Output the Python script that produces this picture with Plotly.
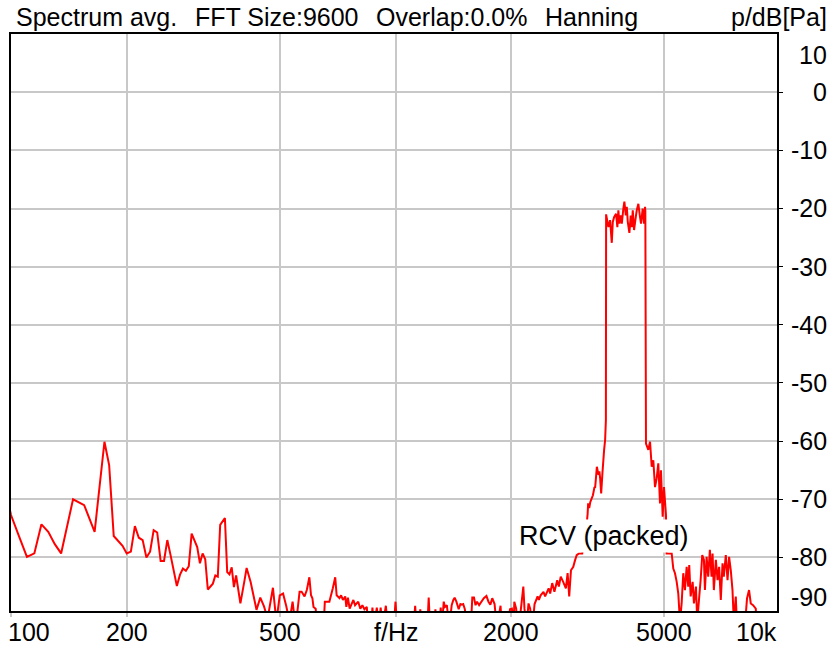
import numpy as np
import plotly.graph_objects as go

# ---- data ----
low_freq = [95, 100, 105, 110, 115, 120, 125, 130, 135, 145, 155, 165, 175, 180, 185, 195, 200, 205,
            210, 215, 220, 225, 230, 235, 240, 245, 250, 255, 260, 270, 275, 280, 285, 290, 295, 305,
            310, 315, 320, 325, 335, 340, 345, 350, 360, 365, 370, 375, 380, 385, 395, 405, 410, 420,
            435, 445, 455, 465, 480, 490, 500, 510, 520, 530]
low_db = [-66.0, -72.7, -76.4, -79.9, -79.3, -74.3, -75.6, -77.7, -79.3, -70.0, -71.0, -75.6, -60.1,
          -64.1, -76.3, -78.0, -79.3, -79.0, -74.6, -76.6, -77.0, -80.0, -79.0, -75.3, -75.7, -80.6,
          -80.6, -77.0, -79.6, -84.9, -83.0, -81.9, -82.3, -81.5, -75.9, -78.2, -81.0, -79.3, -80.3,
          -85.5, -84.5, -83.1, -83.3, -74.4, -73.2, -82.5, -82.9, -81.7, -85.1, -83.1, -87.9, -83.9,
          -81.8, -84.2, -89.0, -86.9, -88.4, -90.5, -85.2, -91.0, -86.5, -86.2, -88.4, -91.0]

floor_freq = [540, 550, 563, 570, 580, 588, 597, 603, 608, 612, 620, 626, 650, 655, 665, 673, 687, 697,
              703, 715, 722, 730, 740, 745, 752, 760, 777, 785, 800, 810, 820, 830, 842, 850, 865, 871,
              880, 894, 905, 915, 925, 944, 955, 990, 1000, 1010, 1115, 1125, 1135, 1150, 1160, 1170,
              1210, 1220, 1230, 1260, 1270, 1280, 1300, 1311, 1320, 1335, 1345, 1360, 1380, 1400, 1414,
              1425, 1440, 1460, 1475, 1488, 1500, 1515, 1530, 1570, 1584, 1600, 1615, 1630, 1650, 1697,
              1724, 1745, 1765, 1785, 1810, 1835, 1876, 1890, 1960, 1985, 2008]
floor_db = [-87.6, -92.0, -85.9, -85.9, -86.7, -85.6, -83.4, -86.5, -87.0, -88.5, -88.8, -92.0, -92.0,
            -87.6, -87.6, -87.6, -85.3, -83.4, -86.5, -87.0, -86.5, -87.3, -86.7, -88.5, -86.9, -88.8,
            -87.3, -88.2, -87.6, -88.8, -88.2, -88.9, -88.5, -92.0, -92.0, -88.6, -92.0, -88.6, -92.0,
            -88.6, -92.0, -88.3, -92.0, -92.0, -87.6, -92.0, -92.0, -88.3, -92.0, -92.0, -88.9, -92.0,
            -92.0, -86.9, -92.0, -92.0, -88.9, -92.0, -92.0, -88.6, -92.0, -87.6, -88.5, -88.2, -92.0,
            -88.2, -87.3, -86.9, -87.6, -88.9, -88.0, -88.1, -88.0, -88.9, -92.0, -92.0, -86.9, -86.9,
            -88.2, -87.6, -88.2, -87.0, -86.6, -87.6, -88.1, -87.0, -88.0, -92.0, -88.3, -92.0, -92.0,
            -88.9, -88.8]

skirt_lo_freq = [2030, 2037, 2060, 2080, 2110, 2150, 2165, 2190, 2218, 2240, 2270, 2300, 2342, 2360,
                 2385, 2426, 2450, 2502, 2525, 2556, 2590, 2634, 2660, 2690, 2730, 2774, 2803, 2830,
                 2860, 2900, 2930, 2960, 3000, 3060, 3100, 3150, 3160, 3170, 3190, 3210, 3240, 3262,
                 3290, 3306, 3320, 3340, 3372, 3390, 3406, 3427, 3453, 3488, 3509, 3525]
skirt_lo_db = [-92.0, -87.6, -88.8, -92.0, -90.0, -85.0, -88.8, -92.0, -87.9, -88.8, -92.0, -88.0,
               -86.7, -87.3, -86.5, -85.9, -86.7, -85.3, -86.2, -84.4, -85.9, -83.9, -85.0, -83.3,
               -84.2, -85.3, -82.7, -86.7, -82.2, -81.6, -80.5, -79.6, -79.3, -79.3, -76.0, -73.5,
               -72.5, -70.7, -71.5, -70.5, -69.8, -69.3, -68.0, -67.9, -66.5, -64.4, -65.8, -65.2,
               -66.4, -69.0, -65.5, -61.5, -59.8, -56.4]

tone_freq = [3530, 3579, 3615, 3652, 3674, 3703, 3747, 3776, 3799, 3822, 3855, 3878, 3914, 3938, 3972,
             3995, 4019, 4058, 4091, 4116, 4141, 4173, 4216, 4241, 4282, 4325, 4351, 4395, 4430, 4457,
             4465]
tone_db = [-21.0, -23.2, -22.0, -25.9, -22.3, -21.5, -20.9, -23.2, -20.3, -22.6, -21.2, -22.6, -20.0,
           -18.8, -21.2, -19.7, -22.3, -24.2, -21.2, -23.2, -20.3, -23.7, -21.5, -20.3, -19.2, -21.5,
           -22.6, -20.0, -22.6, -19.7, -20.5]

skirt_hi_freq = [4482, 4545, 4592, 4639, 4683, 4731, 4779, 4825, 4874, 4903, 4953, 4992, 5052, 5060,
                 5070, 5228, 5278, 5332, 5387, 5438, 5493, 5549, 5603, 5660, 5718, 5772, 5807, 5857,
                 5927, 5973, 6045, 6093, 6166, 6217, 6277, 6341, 6379, 6444, 6506, 6571, 6638, 6678,
                 6730, 6811, 6880, 6946, 7016, 7088, 7143, 7229, 7304, 7373, 7448, 7524, 7583, 7674,
                 7734, 8097, 8210, 8308, 8395, 8511, 8650, 8716, 9800]
skirt_hi_db = [-60.4, -61.5, -60.1, -64.4, -63.3, -67.9, -66.4, -63.8, -70.7, -65.0, -73.0, -67.9,
               -72.7, -76.0, -79.3, -79.3, -81.9, -82.7, -84.2, -86.2, -91.0, -87.9, -82.7, -85.6,
               -81.6, -85.0, -81.3, -86.7, -84.2, -87.9, -85.0, -91.0, -86.7, -83.9, -79.6, -80.4,
               -85.6, -79.9, -83.3, -78.7, -83.3, -79.3, -85.6, -80.4, -83.9, -81.6, -87.3, -81.0,
               -83.3, -79.6, -83.9, -79.9, -82.2, -85.6, -91.0, -86.7, -92.0, -92.0, -87.0, -85.6,
               -87.9, -88.2, -88.8, -92.0, -93.0]

x_tick_vals = [100, 200, 500, 1000, 2000, 5000]
x_tick_text = ["100", "200", "500", "f/Hz", "2000", "5000"]
y_tick_vals = [10, 0, -10, -20, -30, -40, -50, -60, -70, -80, -90]
title_parts = ["Spectrum avg.", "FFT Size:9600", "Overlap:0.0%", "Hanning"]
unit_label = "p/dB[Pa]"
curve_label = "RCV (packed)"

freq = low_freq + floor_freq + skirt_lo_freq + tone_freq + skirt_hi_freq
level = low_db + floor_db + skirt_lo_db + tone_db + skirt_hi_db

FONT = "Liberation Sans, Arial, sans-serif"
W, H = 830, 647
L, R, T, B = 9, 777, 34, 611
Y_RANGE = [-89.2, 10]
FS = 25

fig = go.Figure()
fig.add_trace(go.Scatter(x=freq, y=level, mode="lines",
                         line=dict(color="#ff0000", width=2, simplify=False),
                         hoverinfo="skip", showlegend=False))

fig.update_layout(
    width=W, height=H,
    margin=dict(l=L, r=W - R, t=T, b=H - B, pad=0),
    paper_bgcolor="white", plot_bgcolor="white",
    showlegend=False,
    font=dict(family=FONT, size=FS, color="black"),
)
fig.update_xaxes(type="log", range=[2, 2 + (R - L) / 385.5],
                 tickvals=x_tick_vals, showticklabels=False,
                 ticks="outside", ticklen=4, tickcolor="#c8c8c8", tickwidth=2,
                 showgrid=True, gridcolor="#c8c8c8", gridwidth=2,
                 showline=True, linecolor="black", linewidth=2, mirror=True,
                 zeroline=False)
fig.update_yaxes(range=Y_RANGE, side="right",
                 tickvals=y_tick_vals[1:-1], showticklabels=False,
                 ticks="outside", ticklen=4, tickcolor="black", tickwidth=1,
                 showgrid=True, gridcolor="#c8c8c8", gridwidth=2,
                 showline=True, linecolor="black", linewidth=2, mirror=True,
                 zeroline=False)

ann = []
ph = B - T
xl_y = -(632 - B) / ph
# x tick labels
for v, t in zip(x_tick_vals, x_tick_text):
    anchor = "left" if v == 100 else "center"
    ann.append(dict(x=np.log10(v), xref="x", y=xl_y, yref="paper",
                    text=t, showarrow=False, xanchor=anchor, yanchor="middle",
                    xshift=-5 if v == 100 else 0, font=dict(size=FS)))
ann.append(dict(x=1, xref="paper", y=xl_y, yref="paper", text="10k",
                showarrow=False, xanchor="right", yanchor="middle", xshift=2,
                font=dict(size=FS)))
# y tick labels (paper coords so the edge labels stay visible)
y_span = Y_RANGE[1] - Y_RANGE[0]
for v in y_tick_vals:
    pos = (v - Y_RANGE[0]) / y_span
    shift = 0
    if v == 10:
        shift = -21
    elif v == -90:
        pos = 0
        shift = 14
    ann.append(dict(x=1, xref="paper", xshift=52, y=pos, yref="paper", yshift=shift,
                    text=str(v), showarrow=False, xanchor="right", yanchor="middle",
                    font=dict(size=FS)))
# title parts
title_x = [12, 191, 373, 542]
for px, t in zip(title_x, title_parts):
    ann.append(dict(x=(px - L) / (R - L), xref="paper", y=1 + (T - 17) / ph, yref="paper",
                    text=t, showarrow=False, xanchor="left", yanchor="middle",
                    font=dict(size=FS)))
ann.append(dict(x=1, xref="paper", xshift=52, y=1 + (T - 17) / ph, yref="paper",
                text=unit_label, showarrow=False, xanchor="right", yanchor="middle",
                font=dict(size=FS)))
# curve label with white box covering the curve
ann.append(dict(x=(604 - L) / (R - L), xref="paper", y=(B - 536) / ph, yref="paper",
                text=curve_label, showarrow=False, xanchor="center", yanchor="middle",
                bgcolor="white", borderpad=1, font=dict(size=27)))
fig.update_layout(annotations=ann)

fig.write_html("out.html", config={"displayModeBar": False, "staticPlot": True},
               post_script="document.body.style.margin='0';document.body.style.overflow='hidden';")
